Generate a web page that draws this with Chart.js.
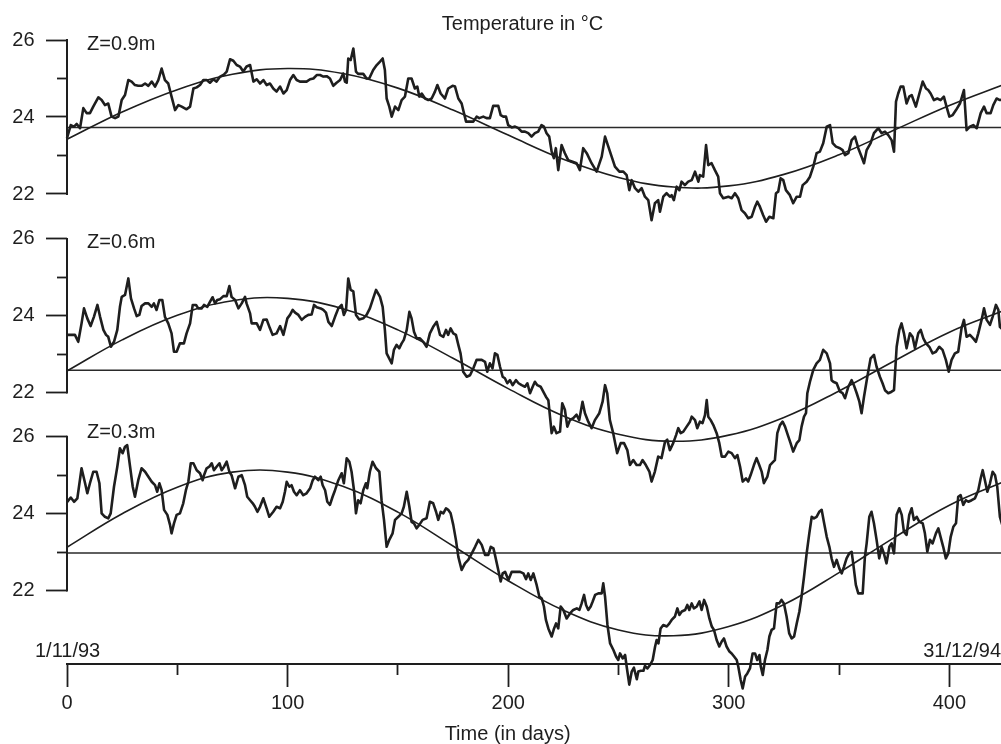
<!DOCTYPE html>
<html>
<head>
<meta charset="utf-8">
<script src="https://cdn.jsdelivr.net/npm/chart.js@4"></script>
<style>
  html, body { margin: 0; padding: 0; background: #fff; }
  canvas { display: block; }
</style>
</head>
<body>
<canvas id="chart" width="1001" height="744"></canvas>
<script>
// panel labels, top to bottom
const depths = ['Z=0.9m', 'Z=0.6m', 'Z=0.3m'];
const yTicks = [22, 24, 26];
const yMinorTicks = [23, 25];
const xTicks = [0, 100, 200, 300, 400];
const xMinorTicks = [50, 150, 250, 350];
const chartTitle = 'Temperature in °C';
const xTitle = 'Time (in days)';
const startDate = '1/11/93';
const endDate = '31/12/94';

// [day, temperature]
const z09 = [[0,23.45],[1.7,23.79],[3.2,23.75],[4.4,23.82],[5.9,23.71],[7.4,24.23],[8.9,24.10],[10.4,24.10],[11.9,24.27],[14.2,24.51],[15.7,24.44],[17.2,24.31],[18.7,24.35],[20.2,24.01],[21.8,23.97],[23.3,24.01],[24.8,24.44],[26.3,24.57],[27.8,24.96],[29.3,24.92],[30.8,24.83],[32.3,24.81],[33.8,24.81],[35.4,24.87],[36.9,24.81],[38.4,24.92],[39.9,24.79],[41.4,24.96],[42.9,25.26],[44.4,24.96],[45.9,24.87],[47.4,24.53],[49.0,24.18],[50.5,24.31],[52.0,24.27],[54.2,24.20],[55.8,24.27],[57.3,24.74],[58.8,24.77],[60.3,24.83],[61.8,24.96],[63.3,24.96],[64.8,24.89],[66.3,24.98],[67.8,24.92],[69.4,25.05],[70.9,25.09],[72.4,25.18],[73.9,25.50],[75.4,25.46],[76.9,25.35],[78.4,25.31],[79.9,25.18],[81.4,25.31],[83.0,25.35],[84.5,24.92],[86.0,24.98],[87.5,24.87],[89.0,24.96],[90.5,24.83],[92.0,24.87],[93.5,24.74],[95.0,24.66],[96.6,24.79],[98.1,24.61],[99.6,24.70],[101.1,24.96],[102.6,25.09],[104.1,24.96],[105.6,24.92],[107.1,24.92],[108.6,24.92],[110.2,24.98],[111.7,25.00],[113.2,25.09],[114.7,25.09],[116.2,25.05],[117.7,25.06],[119.2,25.00],[120.7,24.81],[122.2,24.89],[123.8,24.96],[125.2,25.13],[126.0,24.92],[126.8,24.89],[127.5,25.52],[128.6,25.48],[129.8,25.78],[131.0,25.18],[132.0,25.12],[134.3,25.12],[135.8,25.00],[137.0,25.00],[138.8,25.22],[140.4,25.35],[141.9,25.44],[143.1,25.52],[144.1,25.22],[144.9,24.48],[146.1,24.27],[147.2,24.01],[148.7,24.27],[150.2,24.18],[151.7,24.44],[153.2,24.53],[154.7,25.00],[156.2,25.00],[157.7,24.74],[158.8,24.79],[159.7,24.53],[160.8,24.61],[162.3,24.48],[163.8,24.44],[165.3,24.48],[166.8,24.66],[167.9,24.83],[169.4,24.61],[171.3,24.48],[172.8,24.74],[174.8,24.81],[175.9,24.79],[177.4,24.48],[178.9,24.35],[179.6,24.18],[180.9,23.88],[182.4,23.88],[184.2,23.88],[185.7,24.01],[186.9,23.97],[188.7,24.01],[190.2,23.97],[191.7,23.97],[193.2,24.29],[195.5,24.29],[196.6,24.05],[197.8,24.01],[199.0,24.01],[200.0,23.79],[201.6,23.73],[203.1,23.75],[204.6,23.71],[206.1,23.62],[207.6,23.62],[209.1,23.58],[210.6,23.49],[212.1,23.58],[213.6,23.62],[215.1,23.79],[216.2,23.75],[217.4,23.58],[218.6,23.49],[219.7,23.10],[220.7,22.93],[221.6,23.19],[222.7,22.62],[224.2,23.27],[225.7,23.06],[227.2,22.88],[229.2,22.84],[231.0,22.80],[232.5,22.62],[234.0,23.19],[235.6,23.06],[237.8,22.80],[240.1,22.58],[242.4,22.97],[243.9,23.49],[245.4,23.23],[246.9,22.97],[248.4,22.71],[250.4,22.58],[252.2,22.58],[253.7,22.49],[254.9,22.10],[256.0,22.36],[257.5,22.15],[259.0,22.06],[260.5,22.15],[262.0,21.93],[263.5,21.84],[265.0,21.32],[266.5,21.76],[268.0,21.84],[268.8,21.54],[270.3,21.93],[271.8,22.02],[273.3,21.93],[274.1,21.97],[275.1,21.84],[276.4,22.19],[277.6,22.10],[278.6,22.32],[280.1,22.23],[281.6,22.32],[283.2,22.36],[284.7,22.58],[286.2,22.32],[286.9,22.49],[288.4,22.45],[289.7,23.27],[290.7,22.75],[292.2,22.80],[293.7,22.62],[295.2,22.45],[296.0,22.02],[297.5,21.89],[299.8,21.93],[301.3,21.89],[302.8,22.02],[304.3,21.89],[305.8,21.58],[307.3,21.50],[308.8,21.37],[310.4,21.41],[311.9,21.67],[312.9,21.80],[314.1,21.67],[315.6,21.45],[316.9,21.28],[318.4,21.41],[320.2,21.37],[321.4,22.02],[322.4,22.06],[323.5,22.41],[324.7,22.36],[325.9,22.10],[327.7,21.97],[329.2,21.76],[330.8,21.93],[332.3,21.93],[333.5,22.23],[335.3,22.32],[336.8,22.45],[338.3,22.71],[339.8,23.06],[341.3,23.10],[342.8,23.32],[344.4,23.75],[345.9,23.79],[347.1,23.32],[348.6,23.23],[350.4,23.19],[351.6,23.14],[352.7,23.01],[354.2,23.06],[355.7,23.40],[357.2,23.49],[358.7,23.19],[360.2,22.97],[361.3,22.80],[362.5,23.14],[364.3,23.32],[365.8,23.58],[367.8,23.71],[369.3,23.58],[370.8,23.62],[372.3,23.53],[373.8,23.40],[374.9,23.10],[375.8,24.40],[376.8,24.61],[377.9,24.79],[379.1,24.79],[380.6,24.35],[381.8,24.53],[382.9,24.57],[384.8,24.27],[386.4,24.61],[387.9,24.92],[389.4,24.74],[390.4,24.70],[391.5,24.61],[393.0,24.44],[394.5,24.48],[396.0,24.44],[397.5,24.53],[398.7,24.27],[400.0,24.01],[401.5,24.05],[403.0,24.18],[404.8,24.35],[406.6,24.70],[407.8,23.66],[409.3,23.75],[410.8,23.79],[412.4,23.71],[414.2,24.10],[415.7,24.27],[416.9,24.10],[418.7,24.10],[419.9,24.31],[421.4,24.48],[422.9,24.44],[424,24.45]];

const z06 = [[0,23.50],[2.1,23.50],[3.6,23.50],[5.1,23.32],[6.6,23.80],[7.7,24.19],[9.2,23.93],[10.7,23.73],[12.2,23.97],[13.8,24.28],[15.0,23.97],[16.5,23.63],[17.7,23.50],[18.7,23.45],[19.9,23.19],[21.3,23.32],[22.8,23.63],[24.0,24.23],[24.8,24.49],[26.3,24.54],[27.8,24.97],[29.0,24.45],[30.4,24.19],[31.6,23.99],[32.8,24.02],[33.8,24.25],[35.4,24.32],[36.9,24.32],[38.4,24.23],[39.4,24.32],[40.6,24.15],[41.9,24.41],[43.2,24.41],[44.4,23.97],[45.9,23.80],[47.4,23.54],[48.5,23.06],[49.7,23.06],[51.2,23.28],[53.0,23.28],[54.2,23.54],[55.8,23.80],[57.0,24.28],[58.5,24.28],[59.5,24.19],[61.0,24.19],[62.1,24.28],[63.6,24.23],[64.8,24.36],[66.0,24.48],[67.1,24.32],[68.1,24.41],[69.4,24.43],[70.9,24.51],[72.4,24.51],[73.6,24.77],[74.6,24.49],[76.2,24.41],[77.7,24.19],[79.2,24.32],[80.7,24.49],[81.4,24.32],[83.0,24.06],[83.7,23.80],[86.0,23.80],[87.5,23.63],[89.0,23.89],[90.5,23.90],[92.0,23.67],[93.2,23.50],[95.0,23.54],[96.6,23.73],[98.1,23.50],[99.9,23.93],[101.1,24.02],[102.3,24.15],[103.4,24.08],[104.9,24.02],[106.4,23.89],[107.9,23.97],[109.4,24.02],[110.9,24.03],[112.0,24.28],[113.2,24.22],[115.0,24.19],[116.2,24.15],[117.4,24.08],[118.5,23.84],[120.0,23.73],[121.5,23.97],[123.0,24.19],[124.5,24.28],[125.5,24.02],[126.5,24.15],[127.5,24.97],[128.6,24.67],[129.8,24.63],[131.0,24.02],[132.5,23.90],[134.3,23.93],[135.8,24.02],[137.3,24.19],[138.8,24.45],[140.1,24.67],[141.9,24.49],[143.1,24.23],[144.1,23.63],[144.9,23.02],[146.4,22.85],[147.2,22.76],[148.2,23.11],[149.4,23.24],[150.6,23.15],[151.7,23.28],[152.7,23.37],[154.0,23.63],[155.2,24.10],[156.2,23.93],[157.3,23.58],[158.5,23.41],[160.0,23.41],[161.5,23.32],[163.0,23.19],[164.5,23.54],[166.0,23.71],[167.6,23.84],[169.1,23.50],[170.6,23.45],[171.8,23.63],[172.8,23.50],[173.9,23.67],[175.1,23.54],[176.3,23.50],[177.4,23.24],[178.4,23.02],[179.6,22.54],[181.2,22.41],[182.7,22.45],[184.2,22.63],[185.7,22.85],[188.0,22.85],[189.5,22.80],[190.5,22.54],[191.7,22.76],[192.9,22.63],[194.0,23.02],[195.1,22.98],[196.3,22.67],[197.5,22.41],[198.5,22.37],[199.6,22.24],[200.8,22.32],[202.0,22.19],[203.5,22.32],[204.7,22.24],[206.1,22.19],[207.6,22.15],[208.7,22.24],[209.9,21.98],[211.1,22.15],[212.1,22.28],[213.2,22.19],[214.7,22.15],[215.9,22.02],[217.1,21.89],[218.2,21.80],[219.7,20.94],[220.7,21.11],[221.9,20.94],[223.5,20.98],[224.5,21.72],[225.7,21.55],[226.8,21.11],[228.0,21.28],[229.5,21.33],[231.0,21.42],[232.2,21.28],[233.7,21.76],[234.8,21.46],[236.3,21.24],[237.8,21.07],[239.3,21.28],[241.3,21.46],[242.8,21.76],[243.9,22.19],[244.9,21.98],[246.1,21.28],[247.6,20.94],[249.4,20.42],[251.0,20.68],[252.5,20.68],[254.0,20.50],[255.2,20.11],[256.7,20.24],[258.2,20.11],[259.7,20.11],[260.9,20.24],[262.4,20.11],[264.0,19.94],[265.0,19.68],[266.5,19.94],[268.0,20.33],[269.5,20.29],[271.1,20.72],[272.1,20.77],[273.3,20.50],[274.8,20.68],[276.1,20.89],[277.1,21.07],[278.2,20.94],[279.4,20.98],[280.9,21.11],[282.4,21.24],[283.2,21.37],[284.7,21.28],[285.7,21.07],[286.9,21.24],[288.1,21.20],[289.2,21.41],[290.0,21.80],[290.7,21.37],[291.8,21.28],[293.0,21.15],[294.5,20.94],[295.7,20.68],[296.8,20.33],[298.3,20.33],[299.8,20.46],[301.3,20.42],[302.8,20.29],[303.9,20.37],[305.1,20.07],[306.3,19.68],[307.8,19.76],[308.8,19.68],[309.9,19.85],[311.4,20.11],[312.6,20.29],[313.8,20.11],[314.9,19.94],[315.9,19.64],[317.5,19.81],[318.7,20.11],[320.2,20.20],[320.9,20.24],[322.0,20.94],[323.2,21.15],[324.4,21.24],[325.5,21.11],[327.0,20.85],[328.0,20.68],[329.2,20.46],[330.8,20.68],[332.0,20.76],[333.0,21.11],[334.1,21.37],[335.0,21.46],[335.6,21.98],[336.8,22.28],[338.3,22.59],[339.8,22.76],[341.3,22.85],[342.8,23.11],[344.4,23.02],[345.9,22.76],[346.6,22.32],[347.4,22.28],[348.9,22.24],[350.4,22.02],[351.6,21.98],[352.7,21.85],[354.2,22.15],[355.7,22.32],[356.7,22.19],[358.0,21.98],[359.2,21.76],[360.2,21.46],[361.3,21.89],[362.8,22.41],[364.3,22.89],[365.8,22.98],[367.0,22.67],[368.5,22.41],[369.7,22.24],[370.8,22.06],[372.3,21.98],[373.8,22.02],[374.9,22.06],[376.1,23.19],[377.3,23.63],[378.3,23.80],[379.4,23.54],[380.6,23.15],[382.1,23.54],[383.3,23.45],[384.4,23.15],[385.9,23.54],[387.0,23.63],[388.2,23.41],[389.4,23.28],[390.9,23.19],[392.4,23.02],[393.9,23.06],[395.4,23.19],[396.9,23.11],[398.4,22.85],[399.7,22.54],[401.0,22.85],[402.5,23.02],[404.0,23.06],[405.5,23.67],[406.6,23.89],[407.8,23.45],[409.3,23.50],[410.8,23.41],[412.0,23.32],[413.1,23.54],[414.6,23.89],[415.7,24.19],[416.9,23.89],[418.4,23.76],[419.6,23.97],[421.1,24.28],[422.2,24.15],[422.9,23.71],[424,23.65]];

const z03 = [[0,24.30],[1.7,24.42],[3.2,24.31],[4.7,24.40],[6.6,25.18],[8.2,24.79],[9.2,24.53],[10.4,24.79],[11.9,25.09],[13.4,25.09],[14.7,24.79],[15.7,24.01],[17.2,23.92],[18.7,23.88],[19.8,24.01],[21.3,24.70],[22.8,25.22],[24.0,25.70],[25.2,25.57],[26.3,25.74],[27.3,25.78],[28.6,25.22],[29.8,24.70],[30.8,24.44],[32.3,24.87],[33.8,25.18],[35.4,25.09],[36.9,24.96],[38.4,24.83],[39.9,24.74],[40.9,24.57],[41.9,24.79],[42.9,24.61],[44.0,24.10],[45.5,23.97],[46.7,23.71],[47.4,23.49],[48.5,23.75],[49.7,23.97],[51.2,24.01],[52.7,24.27],[53.9,24.61],[55.0,24.83],[56.1,25.31],[57.3,25.31],[58.8,25.13],[60.3,25.05],[61.5,24.87],[62.1,25.00],[63.3,25.18],[64.5,25.22],[65.6,25.31],[66.6,25.13],[67.8,25.22],[69.1,25.31],[70.1,25.13],[71.2,25.22],[72.4,25.35],[73.6,25.09],[74.6,25.00],[76.2,24.66],[77.7,24.96],[79.2,25.00],[80.7,24.74],[81.7,24.44],[83.0,24.35],[84.2,24.27],[85.2,24.18],[86.3,24.05],[87.5,24.18],[89.0,24.40],[90.5,24.14],[91.7,23.92],[93.5,24.05],[95.0,24.18],[96.6,24.14],[97.8,24.31],[98.8,24.57],[99.6,24.83],[100.8,24.70],[101.8,24.74],[102.9,24.57],[104.1,24.48],[105.6,24.61],[107.1,24.48],[108.6,24.53],[110.2,24.66],[111.4,24.87],[112.4,24.96],[113.9,24.87],[115.0,24.96],[115.9,24.74],[117.0,24.61],[118.0,24.31],[119.2,24.23],[120.4,24.44],[121.5,24.61],[123.0,24.87],[124.5,25.05],[125.5,24.79],[126.8,25.44],[128.0,25.35],[129.0,25.09],[130.1,24.61],[131.0,24.01],[132.0,24.35],[133.1,24.27],[134.3,24.61],[135.5,24.79],[136.1,24.66],[137.3,25.09],[138.5,25.35],[140.1,25.18],[141.6,25.09],[142.6,24.35],[143.7,23.84],[144.9,23.14],[146.1,23.32],[147.6,23.49],[148.7,23.84],[150.2,23.92],[151.7,24.01],[152.7,24.18],[154.0,24.57],[155.2,24.18],[156.2,23.79],[157.3,23.75],[158.5,23.62],[159.7,23.71],[161.2,23.84],[163.0,23.88],[164.5,24.31],[166.0,24.27],[167.3,24.05],[168.3,23.84],[169.4,24.05],[170.6,24.01],[171.8,24.14],[172.8,24.10],[173.9,24.01],[175.1,23.71],[176.3,23.32],[177.4,22.88],[178.9,22.54],[180.4,22.71],[181.9,22.80],[183.5,22.97],[185.0,23.14],[186.5,23.32],[188.0,23.19],[189.5,22.93],[191.0,22.93],[192.1,23.14],[193.3,23.10],[194.0,22.93],[195.5,22.54],[196.6,22.24],[197.5,22.45],[198.6,22.49],[200.1,22.28],[201.6,22.49],[203.1,22.49],[205.4,22.49],[206.9,22.45],[208.1,22.30],[209.1,22.45],[210.2,22.28],[211.4,22.45],[212.9,22.15],[214.1,21.85],[215.2,21.80],[216.2,21.59],[217.1,21.24],[218.2,21.02],[219.7,20.81],[220.8,21.02],[221.7,21.15],[222.7,21.02],[223.8,21.59],[225.0,21.50],[226.5,21.28],[228.0,21.41],[229.5,21.50],[231.1,21.54],[232.3,21.50],[233.3,21.67],[234.4,21.89],[235.3,21.63],[236.3,21.50],[237.4,21.59],[238.3,21.72],[239.4,21.89],[240.9,21.93],[242.4,21.93],[243.1,22.19],[243.9,21.85],[245.0,21.11],[246.2,20.63],[247.7,20.46],[248.9,20.29],[249.9,20.20],[250.7,20.37],[251.9,20.24],[253.0,20.33],[253.7,20.03],[254.9,19.56],[256.0,19.90],[257.0,20.00],[258.3,19.70],[259.0,19.90],[260.1,19.92],[261.3,19.92],[262.0,20.05],[263.1,19.98],[264.3,20.07],[265.5,20.20],[266.6,20.55],[267.3,20.72],[268.1,20.63],[269.1,21.02],[270.3,21.11],[271.9,21.07],[273.1,21.15],[274.1,21.24],[275.6,21.33],[276.7,21.54],[277.6,21.37],[278.7,21.46],[280.2,21.50],[281.2,21.63],[282.1,21.50],[283.2,21.67],[284.2,21.54],[285.5,21.59],[286.7,21.72],[287.7,21.50],[288.8,21.76],[290.0,21.59],[291.2,21.28],[292.3,21.07],[293.3,20.98],[294.5,20.72],[295.7,20.55],[296.8,20.68],[297.8,20.76],[299.0,20.55],[300.3,20.42],[301.3,20.37],[302.4,20.29],[303.6,20.20],[304.3,20.03],[305.4,19.68],[306.3,19.46],[307.4,19.77],[308.4,19.85],[309.6,19.98],[310.8,20.37],[311.9,20.37],[312.9,20.20],[313.9,20.33],[314.5,20.03],[315.4,19.81],[316.4,20.20],[317.5,20.46],[318.4,20.81],[319.4,20.98],[320.5,21.02],[321.7,21.67],[322.9,21.67],[323.9,21.76],[325.0,21.67],[326.2,21.33],[327.4,20.89],[328.5,20.76],[329.6,20.81],[330.8,21.15],[332.0,21.46],[333.0,21.85],[334.1,22.36],[335.3,22.97],[336.5,23.49],[337.6,23.92],[338.6,23.88],[339.8,23.92],[341.0,24.05],[342.1,24.10],[343.1,23.79],[344.4,23.40],[345.6,23.14],[346.6,22.84],[347.7,22.62],[348.9,22.80],[350.1,22.58],[351.2,22.45],[352.2,22.62],[353.4,22.84],[354.6,22.97],[355.7,23.01],[356.4,22.71],[357.6,22.15],[358.7,21.93],[359.8,21.93],[360.7,21.93],[361.7,22.88],[362.5,23.23],[363.7,23.92],[364.7,24.05],[365.8,23.75],[367.0,23.32],[368.2,22.84],[369.3,23.14],[370.3,22.97],[371.5,22.71],[372.8,23.14],[373.8,23.23],[374.9,22.97],[376.1,23.97],[377.3,24.14],[378.4,23.97],[379.4,23.53],[380.6,23.45],[381.8,23.97],[382.9,24.14],[383.9,23.84],[385.2,23.92],[386.4,23.79],[387.9,23.75],[388.9,23.49],[390.0,23.01],[391.2,23.32],[392.4,23.23],[393.9,23.49],[395.0,23.62],[396.0,23.40],[397.2,23.14],[398.4,22.84],[399.5,22.97],[400.6,23.40],[401.8,23.66],[403.0,23.75],[404.0,24.44],[405.1,24.48],[406.3,24.23],[407.5,24.35],[408.6,24.31],[410.1,24.35],[411.6,24.40],[413.1,24.61],[414.2,24.92],[415.1,25.13],[416.1,24.87],[417.2,24.57],[418.4,24.79],[419.6,25.09],[420.7,25.00],[421.7,24.70],[422.9,23.92],[424,23.70]];

// seasonal fit curves, read every 25 days
const fitDays = [0, 25, 50, 75, 100, 125, 150, 175, 200, 225, 250, 275, 300, 325, 350, 375, 400, 425];
const fit09 = [23.42, 24.13, 24.71, 25.11, 25.26, 25.13, 24.75, 24.18, 23.53, 22.90, 22.43, 22.18, 22.21, 22.51, 23.02, 23.66, 24.30, 24.85];
const fit06 = [22.56, 23.37, 24.01, 24.39, 24.45, 24.18, 23.63, 22.89, 22.10, 21.39, 20.91, 20.73, 20.89, 21.35, 22.04, 22.82, 23.57, 24.14];
const fit03 = [23.13, 24.00, 24.69, 25.08, 25.08, 24.71, 24.04, 23.16, 22.26, 21.49, 20.98, 20.83, 21.07, 21.64, 22.47, 23.38, 24.22, 24.84];

// mean temperature of each record
const means = [23.73, 22.58, 22.98];

const series = [z09, z06, z03];
const fits = [fit09, fit06, fit03];

const ink = '#1e1e1e';
const fontFamily = '"Liberation Sans", Arial, Helvetica, sans-serif';
const font = { family: fontFamily, size: 20 };
const xMax = 423.4;

// each panel gets its own y scale spanning the whole plot height,
// ranges chosen so the three records stack like the original figure
const yRanges = [[9.792, 27.039], [14.929, 32.221], [20.096, 37.343]];
// how far below the 26 tick each depth label sits (px)
const labelDrop = [9.5, 9.3, 1.6];

const fixedTicks = values => axis => { axis.ticks = values.map(v => ({ value: v })); };
const flatY = axis => { axis.width = 0; axis.paddingTop = 0; axis.paddingBottom = 0; };

const scales = {
    x: {
        type: 'linear', position: 'bottom', min: 0, max: xMax, weight: 1,
        afterBuildTicks: fixedTicks(xTicks),
        afterFit: axis => { axis.height = 80; axis.paddingLeft = 0; axis.paddingRight = 0; },
        grid: { drawOnChartArea: false, tickLength: 23, tickWidth: 1.8, tickColor: ink },
        border: { display: true, color: ink, width: 2 },
        ticks: { font, color: ink, padding: 4, autoSkip: false, maxRotation: 0 }
    },
    xMinor: {
        type: 'linear', position: 'bottom', min: 0, max: xMax, weight: 0,
        afterBuildTicks: fixedTicks(xMinorTicks),
        afterFit: axis => { axis.height = 0; axis.paddingLeft = 0; axis.paddingRight = 0; },
        grid: { drawOnChartArea: false, tickLength: 11, tickWidth: 1.8, tickColor: ink },
        border: { display: false },
        ticks: { display: false }
    }
};

const datasets = [];
depths.forEach((label, i) => {
    const [min, max] = yRanges[i];
    scales['y' + i] = {
        type: 'linear', position: 'left', min, max,
        afterBuildTicks: fixedTicks(yTicks),
        afterFit: flatY,
        grid: { drawOnChartArea: false, tickLength: 21, tickWidth: 1.8, tickColor: ink },
        border: { display: false },
        ticks: { font, color: ink, padding: 11.5, autoSkip: false }
    };
    scales['y' + i + 'minor'] = {
        type: 'linear', position: 'left', min, max,
        afterBuildTicks: fixedTicks(yMinorTicks),
        afterFit: flatY,
        grid: { drawOnChartArea: false, tickLength: 10, tickWidth: 1.8, tickColor: ink },
        border: { display: false },
        ticks: { display: false }
    };

    datasets.push({
        label: label,
        data: series[i].map(p => ({ x: p[0], y: p[1] })),
        yAxisID: 'y' + i,
        borderColor: ink, borderWidth: 2.6, borderJoinStyle: 'round',
        pointRadius: 0, tension: 0, clip: false
    });
    datasets.push({
        label: label + ' fit',
        data: fitDays.map((d, k) => ({ x: d, y: fits[i][k] })),
        yAxisID: 'y' + i,
        borderColor: ink, borderWidth: 1.6,
        pointRadius: 0, tension: 0.4, clip: false
    });
    datasets.push({
        label: label + ' mean',
        data: [{ x: 0, y: means[i] }, { x: xMax, y: means[i] }],
        yAxisID: 'y' + i,
        borderColor: '#2a2a2a', borderWidth: 1.5,
        pointRadius: 0, clip: false
    });
});

// the y scales all share the left margin: widen them after layout so
// their tick labels are not clipped away
const shareLeftMargin = {
    id: 'shareLeftMargin',
    afterLayout(chart) {
        Object.values(chart.scales).forEach(s => {
            if (s.axis === 'y') {
                s.left = 0;
                s.right = chart.chartArea.left;
                s.width = s.right;
            }
        });
    }
};

// axis brackets and free text
const decorations = {
    id: 'decorations',
    afterDraw(chart) {
        const ctx = chart.ctx;
        const area = chart.chartArea;
        ctx.save();
        ctx.strokeStyle = ink;
        ctx.fillStyle = ink;
        ctx.lineWidth = 2;
        ctx.font = '20px ' + fontFamily;
        depths.forEach((label, i) => {
            const s = chart.scales['y' + i];
            const top = s.getPixelForValue(yTicks[yTicks.length - 1]);
            const bottom = s.getPixelForValue(yTicks[0]);
            ctx.beginPath();
            ctx.moveTo(area.left, top - 0.9);
            ctx.lineTo(area.left, bottom + 0.9);
            ctx.stroke();
            ctx.textAlign = 'left';
            ctx.textBaseline = 'alphabetic';
            ctx.fillText(label, 87, top + labelDrop[i]);
        });
        ctx.textAlign = 'center';
        ctx.fillText(chartTitle, 522.5, 30);
        ctx.fillText(xTitle, 507.6, 740);
        ctx.textAlign = 'left';
        ctx.fillText(startDate, 35, 657);
        ctx.textAlign = 'right';
        ctx.fillText(endDate, 1001, 657);
        ctx.restore();
    }
};

new Chart(document.getElementById('chart'), {
    type: 'line',
    data: { datasets },
    options: {
        responsive: false,
        animation: false,
        devicePixelRatio: 1,
        layout: { padding: { left: 67, right: 0, top: 0, bottom: 0 } },
        plugins: { legend: { display: false }, tooltip: { enabled: false }, title: { display: false } },
        scales
    },
    plugins: [shareLeftMargin, decorations]
});
</script>
</body>
</html>
